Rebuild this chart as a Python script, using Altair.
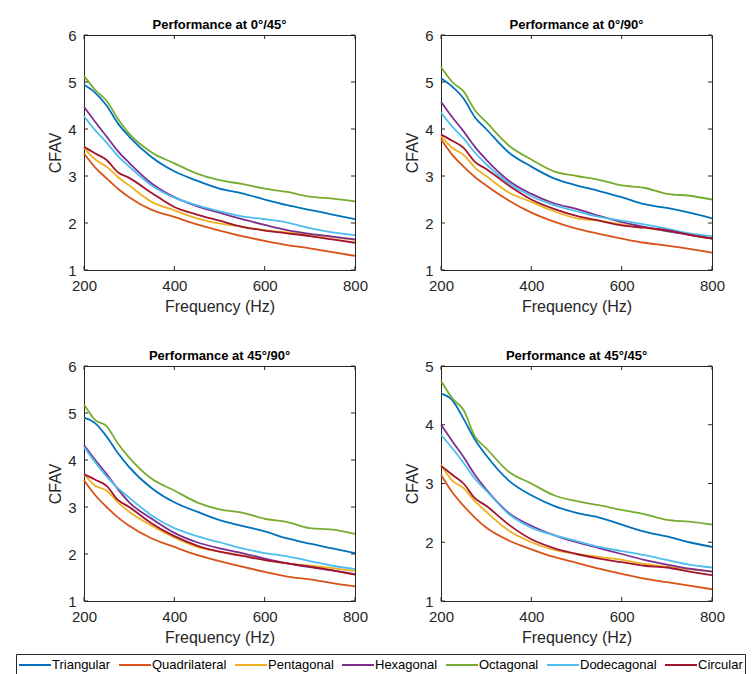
import altair as alt
import pandas as pd

freq = [200, 225, 250, 275, 300, 350, 400, 450, 500, 550, 600, 650, 700, 750, 800]
shapes = ["Triangular", "Quadrilateral", "Pentagonal", "Hexagonal", "Octagonal", "Dodecagonal", "Circular"]
colors = ["#0072BD", "#D95319", "#EDB120", "#7E2F8E", "#77AC30", "#4DBEEE", "#A2142F"]

# Panel 1: 0°/45°
p1_tri = [4.94, 4.77, 4.50, 4.12, 3.84, 3.40, 3.10, 2.90, 2.73, 2.63, 2.50, 2.38, 2.28, 2.18, 2.08]
p1_quad = [3.48, 3.18, 2.95, 2.73, 2.55, 2.28, 2.13, 1.97, 1.84, 1.72, 1.62, 1.53, 1.46, 1.38, 1.30]
p1_pent = [3.60, 3.35, 3.20, 2.98, 2.80, 2.45, 2.27, 2.10, 1.99, 1.92, 1.85, 1.80, 1.75, 1.70, 1.64]
p1_hexa = [4.47, 4.15, 3.84, 3.53, 3.28, 2.84, 2.55, 2.36, 2.22, 2.08, 1.96, 1.85, 1.77, 1.71, 1.65]
p1_octa = [5.13, 4.83, 4.60, 4.22, 3.90, 3.50, 3.27, 3.05, 2.91, 2.83, 2.73, 2.66, 2.56, 2.52, 2.46]
p1_dode = [4.27, 3.97, 3.71, 3.43, 3.20, 2.80, 2.54, 2.38, 2.25, 2.14, 2.08, 2.01, 1.89, 1.80, 1.74]
p1_circ = [3.62, 3.48, 3.34, 3.08, 2.96, 2.64, 2.34, 2.18, 2.05, 1.92, 1.84, 1.78, 1.72, 1.65, 1.58]

# Panel 2: 0°/90°
p2_tri = [5.08, 4.90, 4.65, 4.25, 4.00, 3.50, 3.20, 2.95, 2.80, 2.68, 2.55, 2.40, 2.32, 2.22, 2.10]
p2_quad = [3.78, 3.45, 3.20, 2.98, 2.80, 2.48, 2.22, 2.03, 1.88, 1.77, 1.67, 1.58, 1.52, 1.45, 1.37]
p2_pent = [3.85, 3.60, 3.45, 3.18, 3.00, 2.65, 2.45, 2.25, 2.10, 2.05, 1.97, 1.90, 1.83, 1.75, 1.68]
p2_hexa = [4.58, 4.25, 3.95, 3.62, 3.35, 2.90, 2.62, 2.42, 2.30, 2.15, 2.02, 1.92, 1.83, 1.75, 1.67]
p2_octa = [5.32, 5.00, 4.80, 4.40, 4.15, 3.65, 3.35, 3.10, 3.00, 2.92, 2.80, 2.75, 2.62, 2.58, 2.50]
p2_dode = [4.35, 4.05, 3.80, 3.50, 3.25, 2.85, 2.57, 2.38, 2.25, 2.13, 2.05, 1.97, 1.88, 1.78, 1.72]
p2_circ = [3.88, 3.75, 3.60, 3.30, 3.15, 2.80, 2.50, 2.30, 2.15, 2.05, 1.95, 1.90, 1.85, 1.75, 1.67]

# Panel 3: 45°/90°
p3_tri = [4.90, 4.78, 4.50, 4.15, 3.85, 3.40, 3.10, 2.90, 2.72, 2.60, 2.48, 2.33, 2.22, 2.12, 2.02]
p3_quad = [3.57, 3.25, 3.00, 2.78, 2.60, 2.33, 2.15, 1.98, 1.85, 1.73, 1.62, 1.52, 1.46, 1.38, 1.31]
p3_pent = [3.70, 3.45, 3.35, 3.10, 2.90, 2.60, 2.35, 2.15, 2.05, 1.97, 1.88, 1.80, 1.75, 1.70, 1.64]
p3_hexa = [4.32, 4.00, 3.70, 3.38, 3.10, 2.75, 2.45, 2.25, 2.12, 2.02, 1.90, 1.80, 1.72, 1.65, 1.57]
p3_octa = [5.18, 4.85, 4.72, 4.35, 4.05, 3.60, 3.35, 3.10, 2.95, 2.88, 2.75, 2.68, 2.55, 2.52, 2.43]
p3_dode = [4.28, 3.95, 3.65, 3.40, 3.20, 2.82, 2.55, 2.38, 2.25, 2.12, 2.02, 1.95, 1.85, 1.75, 1.68]
p3_circ = [3.70, 3.58, 3.45, 3.15, 3.00, 2.65, 2.38, 2.18, 2.05, 1.96, 1.87, 1.80, 1.73, 1.65, 1.56]

# Panel 4: 45°/45°
p4_tri = [4.53, 4.42, 4.10, 3.75, 3.48, 3.05, 2.80, 2.62, 2.50, 2.42, 2.30, 2.18, 2.10, 2.00, 1.92]
p4_quad = [3.15, 2.85, 2.62, 2.42, 2.25, 2.03, 1.88, 1.75, 1.65, 1.55, 1.46, 1.38, 1.32, 1.26, 1.20]
p4_pent = [3.32, 3.05, 2.92, 2.70, 2.52, 2.20, 2.00, 1.87, 1.80, 1.75, 1.70, 1.63, 1.58, 1.54, 1.50]
p4_hexa = [4.00, 3.72, 3.45, 3.15, 2.90, 2.50, 2.28, 2.12, 2.00, 1.90, 1.80, 1.70, 1.62, 1.55, 1.50]
p4_octa = [4.75, 4.45, 4.25, 3.80, 3.60, 3.20, 3.00, 2.80, 2.70, 2.63, 2.55, 2.48, 2.38, 2.35, 2.30]
p4_dode = [3.83, 3.60, 3.35, 3.08, 2.88, 2.48, 2.25, 2.12, 2.02, 1.92, 1.85, 1.78, 1.70, 1.62, 1.57]
p4_circ = [3.30, 3.15, 3.00, 2.75, 2.62, 2.30, 2.05, 1.90, 1.80, 1.72, 1.66, 1.60, 1.57, 1.50, 1.44]

titles = ["Performance at 0°/45°", "Performance at 0°/90°", "Performance at 45°/90°", "Performance at 45°/45°"]
panels_data = [
    [p1_tri, p1_quad, p1_pent, p1_hexa, p1_octa, p1_dode, p1_circ],
    [p2_tri, p2_quad, p2_pent, p2_hexa, p2_octa, p2_dode, p2_circ],
    [p3_tri, p3_quad, p3_pent, p3_hexa, p3_octa, p3_dode, p3_circ],
    [p4_tri, p4_quad, p4_pent, p4_hexa, p4_octa, p4_dode, p4_circ],
]
y_max = [6, 6, 6, 5]
x_ticks = [200, 400, 600, 800]

W, H = 271, 235
FONT = "Liberation Sans"
INK = "#262626"

legend = alt.Legend(
    orient="none", legendX=-68, legendY=619, direction="horizontal", columns=7, gridAlign="none",
    title=None, symbolType="M-1,0H3", symbolSize=256, symbolStrokeWidth=2,
    labelFontSize=13, labelFont=FONT, labelColor="#000000", labelLimit=300,
    columnPadding=4, labelOffset=16, strokeColor=INK, padding=2, fillColor="white",
)


def panel(i):
    rows = []
    for name, vals in zip(shapes, panels_data[i]):
        for f, v in zip(freq, vals):
            rows.append({"Frequency": f, "CFAV": v, "Shape": name})
    df = pd.DataFrame(rows)
    ymax = y_max[i]
    y_ticks = list(range(1, ymax + 1))
    xs = alt.Scale(domain=[200, 800], nice=False, zero=False)
    ys = alt.Scale(domain=[1, ymax], nice=False, zero=False)
    xax = alt.Axis(values=x_ticks, title="Frequency (Hz)", format="d")
    yax = alt.Axis(values=y_ticks, title="CFAV", format="d")

    lines = alt.Chart(df).mark_line(strokeWidth=1.8, interpolate="monotone").encode(
        x=alt.X("Frequency:Q", scale=xs, axis=xax),
        y=alt.Y("CFAV:Q", scale=ys, axis=yax),
        color=alt.Color("Shape:N", scale=alt.Scale(domain=shapes, range=colors), sort=shapes, legend=legend),
    )
    xt = pd.DataFrame({"Frequency": x_ticks})
    yt = pd.DataFrame({"CFAV": y_ticks})
    tb = alt.Chart(xt).mark_rule(color=INK, strokeWidth=1).encode(
        x=alt.X("Frequency:Q", scale=xs, axis=xax), y=alt.value(H), y2=alt.value(H - 4))
    tt = alt.Chart(xt).mark_rule(color=INK, strokeWidth=1).encode(
        x=alt.X("Frequency:Q", scale=xs, axis=xax), y=alt.value(0), y2=alt.value(4))
    tl = alt.Chart(yt).mark_rule(color=INK, strokeWidth=1).encode(
        y=alt.Y("CFAV:Q", scale=ys, axis=yax), x=alt.value(0), x2=alt.value(4))
    tr = alt.Chart(yt).mark_rule(color=INK, strokeWidth=1).encode(
        y=alt.Y("CFAV:Q", scale=ys, axis=yax), x=alt.value(W), x2=alt.value(W - 4))
    return alt.layer(lines, tb, tt, tl, tr).properties(
        width=W, height=H,
        title=alt.TitleParams(titles[i], fontSize=13, fontWeight="bold", font=FONT, color="#000000", offset=-4),
    )


row1 = alt.hconcat(panel(0), panel(1), spacing=35)
row2 = alt.hconcat(panel(2), panel(3), spacing=35)
chart = alt.vconcat(row1, row2, spacing=34).properties(
    padding={"left": 15, "top": 18, "right": 0, "bottom": 0},
    background="white",
).configure_view(
    stroke=INK, strokeWidth=1
).configure_axis(
    domain=False, ticks=False, grid=False, labelFlush=False,
    labelFont=FONT, labelFontSize=15, labelColor=INK, labelPadding=8,
    titleFont=FONT, titleFontSize=16, titleFontWeight="normal", titleColor=INK,
).configure_axisY(titlePadding=4).configure_axisX(titlePadding=5)

chart.save("out.html", embed_options={"renderer": "svg", "actions": False})
